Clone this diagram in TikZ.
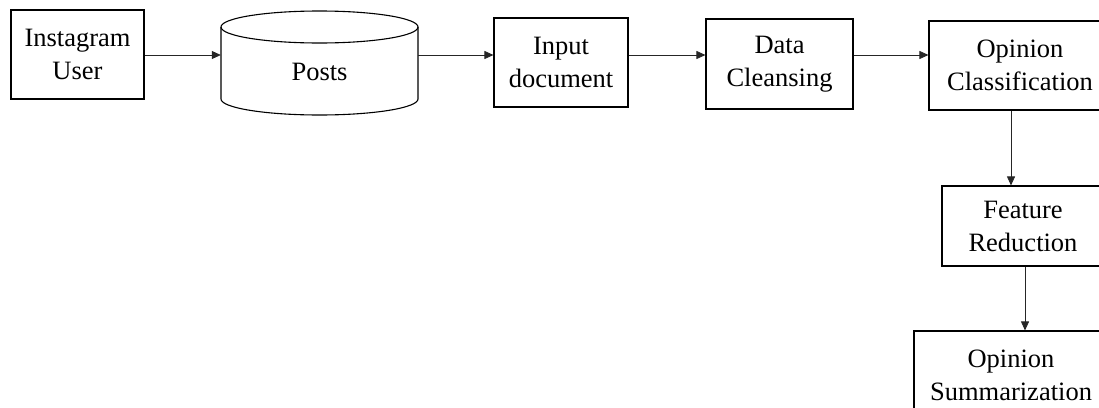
\documentclass[tikz,border=0pt]{standalone}
\usepackage{fontspec}
\setmainfont{Liberation Serif}
\usetikzlibrary{arrows.meta}
\begin{document}
\begin{tikzpicture}[x=1pt,y=-1pt,
  box/.style={draw, line width=1.1pt, align=center, inner sep=0pt, font=\fontsize{26.5}{33}\selectfont},
  lbl/.style={align=center, inner sep=0pt, font=\fontsize{26.5}{33}\selectfont},
  shapeline/.style={line width=1.1pt},
  conn/.style={line width=0.8pt, draw=black!85, -{Triangle[length=9pt,width=8pt]}}]
\useasboundingbox (0,0) rectangle (1099,407);
\clip (0,0) rectangle (1099,407);
% nodes
\node[box, minimum width=133pt, minimum height=89pt] (user) at (77.5,54.5) {Instagram\\User};
\node[inner sep=0pt, minimum width=197pt, minimum height=104pt] (posts) at (319.5,63) {};
\draw[shapeline] (221,27) -- (221,99) arc[start angle=180, end angle=0, x radius=98.5, y radius=16] -- (418,27);
\draw[shapeline] (319.5,27) ellipse [x radius=98.5, y radius=16];
\node[lbl] (poststxt) at (319.5,72) {Posts};
\node[box, minimum width=134pt, minimum height=89pt] (input) at (561,62.5) {Input\\document};
\node[box, minimum width=147pt, minimum height=90pt] (clean) at (779.5,64) {Data\\Cleansing};
\node[box, minimum width=182pt, minimum height=89pt] (opcl) at (1020,65.5) {Opinion\\Classification};
\node[box, minimum width=162pt, minimum height=80pt] (feat) at (1023,226) {Feature\\Reduction};
\node[box, minimum width=194pt, minimum height=89pt] (summ) at (1011,375.5) {Opinion\\Summarization};
% connectors
\coordinate (row) at (0,55);
\coordinate (v1) at (1011,0);
\coordinate (v2) at (1025,0);
\draw[conn] (row -| user.east) -- (row -| posts.west);
\draw[conn] (row -| posts.east) -- (row -| input.west);
\draw[conn] (row -| input.east) -- (row -| clean.west);
\draw[conn] (row -| clean.east) -- (row -| opcl.west);
\draw[conn] (v1 |- opcl.south) -- (v1 |- feat.north);
\draw[conn] (v2 |- feat.south) -- (v2 |- summ.north);
\end{tikzpicture}
\end{document}
